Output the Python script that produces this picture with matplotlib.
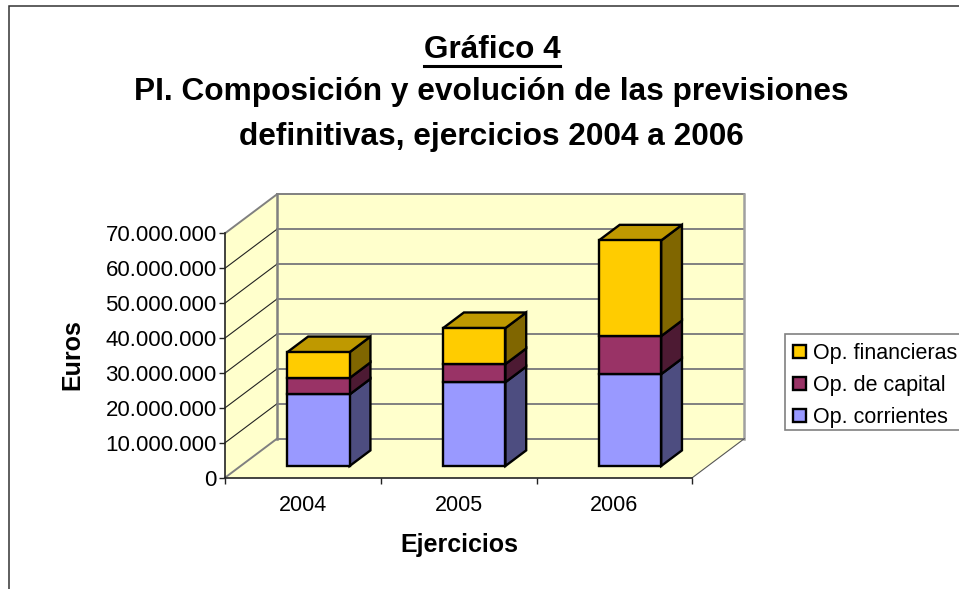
import matplotlib
matplotlib.use("Agg")
from matplotlib import pyplot as plt
from matplotlib.lines import Line2D
from matplotlib.patches import Patch, Rectangle

plt.rcParams['font.family'] = ['Liberation Sans', 'DejaVu Sans']

years = ['2004', '2005', '2006']
op_corrientes = [20500000, 24000000, 26300000]
op_capital = [4700000, 5200000, 10900000]
op_financieras = [7400000, 10300000, 27400000]
series_names = ['Op. corrientes', 'Op. de capital', 'Op. financieras']
y_ticks = [0, 10000000, 20000000, 30000000, 40000000, 50000000, 60000000, 70000000]
y_labels = ['0', '10.000.000', '20.000.000', '30.000.000', '40.000.000',
            '50.000.000', '60.000.000', '70.000.000']

W, H = 959, 589
# 3D look: how far the back wall sits from the front plane, in data units
DEPTH_X = 52 / 155.8
DEPTH_Y = 39 / 3.49 * 1e6
BAR_WIDTH = 0.4
WALL = '#FFFFCC'
GRAY = '#808080'


def proj(x, y, d):
    return x + d * DEPTH_X, y + d * DEPTH_Y


def face(ax, corners, color, zorder, edge='black', lw=1.7):
    pts = [proj(*c) for c in corners]
    xs = [p[0] for p in pts]
    ys = [p[1] for p in pts]
    ax.fill(xs, ys, facecolor=color, edgecolor=edge, linewidth=lw,
            clip_on=False, zorder=zorder)


def line3d(ax, a, b, color, lw, zorder):
    pa, pb = proj(*a), proj(*b)
    ax.plot([pa[0], pb[0]], [pa[1], pb[1]], color=color, linewidth=lw,
            clip_on=False, zorder=zorder, solid_capstyle='projecting')


fig = plt.figure(figsize=(W / 100, H / 100), dpi=100)
ax = fig.add_axes([225 / W, 1 - 477.7 / H, 467.3 / W, 244.4 / H])
n = len(years)
top = y_ticks[-1]
ax.set_xlim(0, n)
ax.set_ylim(0, top)
ax.patch.set_visible(False)
for s in ['top', 'right']:
    ax.spines[s].set_visible(False)
for s in ['left', 'bottom']:
    ax.spines[s].set_linewidth(1.2)
    ax.spines[s].set_color('#222222')
    ax.spines[s].set_zorder(5)

# walls and floor
face(ax, [(0, 0, 0), (0, top, 0), (0, top, 1), (0, 0, 1)], WALL, 1, edge='none', lw=0)
face(ax, [(0, 0, 1), (0, top, 1), (n, top, 1), (n, 0, 1)], WALL, 1, edge='none', lw=0)
face(ax, [(0, 0, 0), (n, 0, 0), (n, 0, 1), (0, 0, 1)], WALL, 1, edge='none', lw=0)

for v in y_ticks:
    line3d(ax, (0, v, 1), (n, v, 1), GRAY, 1.4, 2)
    if 0 < v < top:
        line3d(ax, (0, v, 0), (0, v, 1), '#222222', 0.8, 2)
line3d(ax, (0, 0, 0), (0, 0, 1), GRAY, 1.4, 2)
line3d(ax, (0, top, 0), (0, top, 1), GRAY, 1.4, 2)
line3d(ax, (0, 0, 1), (0, top, 1), GRAY, 1.8, 2)
line3d(ax, (n, 0, 1), (n, top, 1), '#A0A0A0', 1.8, 2)
line3d(ax, (n, 0, 0), (n, 0, 1), '#555555', 0.8, 2)

# bars
layers = [
    (op_corrientes, '#9999FF', '#4D4D80', '#7373BF'),
    (op_capital, '#993366', '#4D1A33', '#73264D'),
    (op_financieras, '#FFCC00', '#806600', '#BF9900'),
]
d0, d1 = 0.3, 0.7
for i in range(n):
    x0 = i + 0.5 - BAR_WIDTH / 2
    x1 = x0 + BAR_WIDTH
    base = 0
    for vals, front, side, upper in layers:
        v = base + vals[i]
        face(ax, [(x1, base, d0), (x1, v, d0), (x1, v, d1), (x1, base, d1)], side, 3)
        face(ax, [(x0, base, d0), (x1, base, d0), (x1, v, d0), (x0, v, d0)], front, 4)
        base = v
    face(ax, [(x0, base, d0), (x1, base, d0), (x1, base, d1), (x0, base, d1)], upper, 3)

# axis ticks
ax.set_yticks(y_ticks)
ax.set_yticklabels(y_labels, fontsize=16, color='black')
ax.tick_params(axis='y', length=4.5, width=1, pad=1.5, color='#222222')
ax.set_xticks(range(n + 1))
ax.set_xticklabels([])
ax.tick_params(axis='x', which='major', length=4.5, width=1, color='#222222')
ax.set_xticks([i + 0.5 for i in range(n)], minor=True)
ax.set_xticklabels(years, minor=True, fontsize=15.5)
ax.tick_params(axis='x', which='minor', length=0, pad=12.5)

# texts
title = fig.text(492 / W, 1 - 50 / H, 'Gráfico 4', ha='center', va='center',
                 fontsize=22.7, fontweight='bold')
fig.text(491.5 / W, 1 - 92 / H, 'PI. Composición y evolución de las previsiones',
         ha='center', va='center', fontsize=22.8, fontweight='bold')
fig.text(491.5 / W, 1 - 137 / H, 'definitivas, ejercicios 2004 a 2006',
         ha='center', va='center', fontsize=22.8, fontweight='bold')
fig.text(72 / W, 1 - 355 / H, 'Euros', rotation=90, ha='center', va='center',
         fontsize=18, fontweight='bold')
fig.text(459 / W, 1 - 545 / H, 'Ejercicios', ha='center', va='center',
         fontsize=18, fontweight='bold')

# underline of first title line
fig.canvas.draw()
box = title.get_window_extent()
fig.add_artist(Line2D([box.x0 / W, box.x1 / W], [1 - 65.5 / H, 1 - 65.5 / H],
                      color='black', linewidth=2.2))

# outer chart frame, runs off the picture on the right and bottom
fig.add_artist(Rectangle((9 / W, -0.1), 1.1, 1.1 - 6 / H, transform=fig.transFigure,
                         fill=False, edgecolor='#333333', linewidth=1.1))

# legend, its box is drawn apart so the rows can sit where they do in the original
fig.add_artist(Rectangle((784.7 / W, 1 - 429.7 / H), 200 / W, 95.7 / H,
                         transform=fig.transFigure, facecolor='white',
                         edgecolor=GRAY, linewidth=1.2))
handles = [Patch(facecolor=layers[j][1], edgecolor='black', linewidth=1.7) for j in [2, 1, 0]]
labels = [series_names[j] for j in [2, 1, 0]]
leg = fig.legend(handles, labels, loc='upper left',
                 bbox_to_anchor=(784.7 / W, 1 - 335 / H), borderaxespad=0,
                 fontsize=15.5, frameon=False, handlelength=0.6, handleheight=0.6,
                 handletextpad=0.32, labelspacing=0.51, borderpad=0.38)

fig.savefig('out.png', dpi=100)
